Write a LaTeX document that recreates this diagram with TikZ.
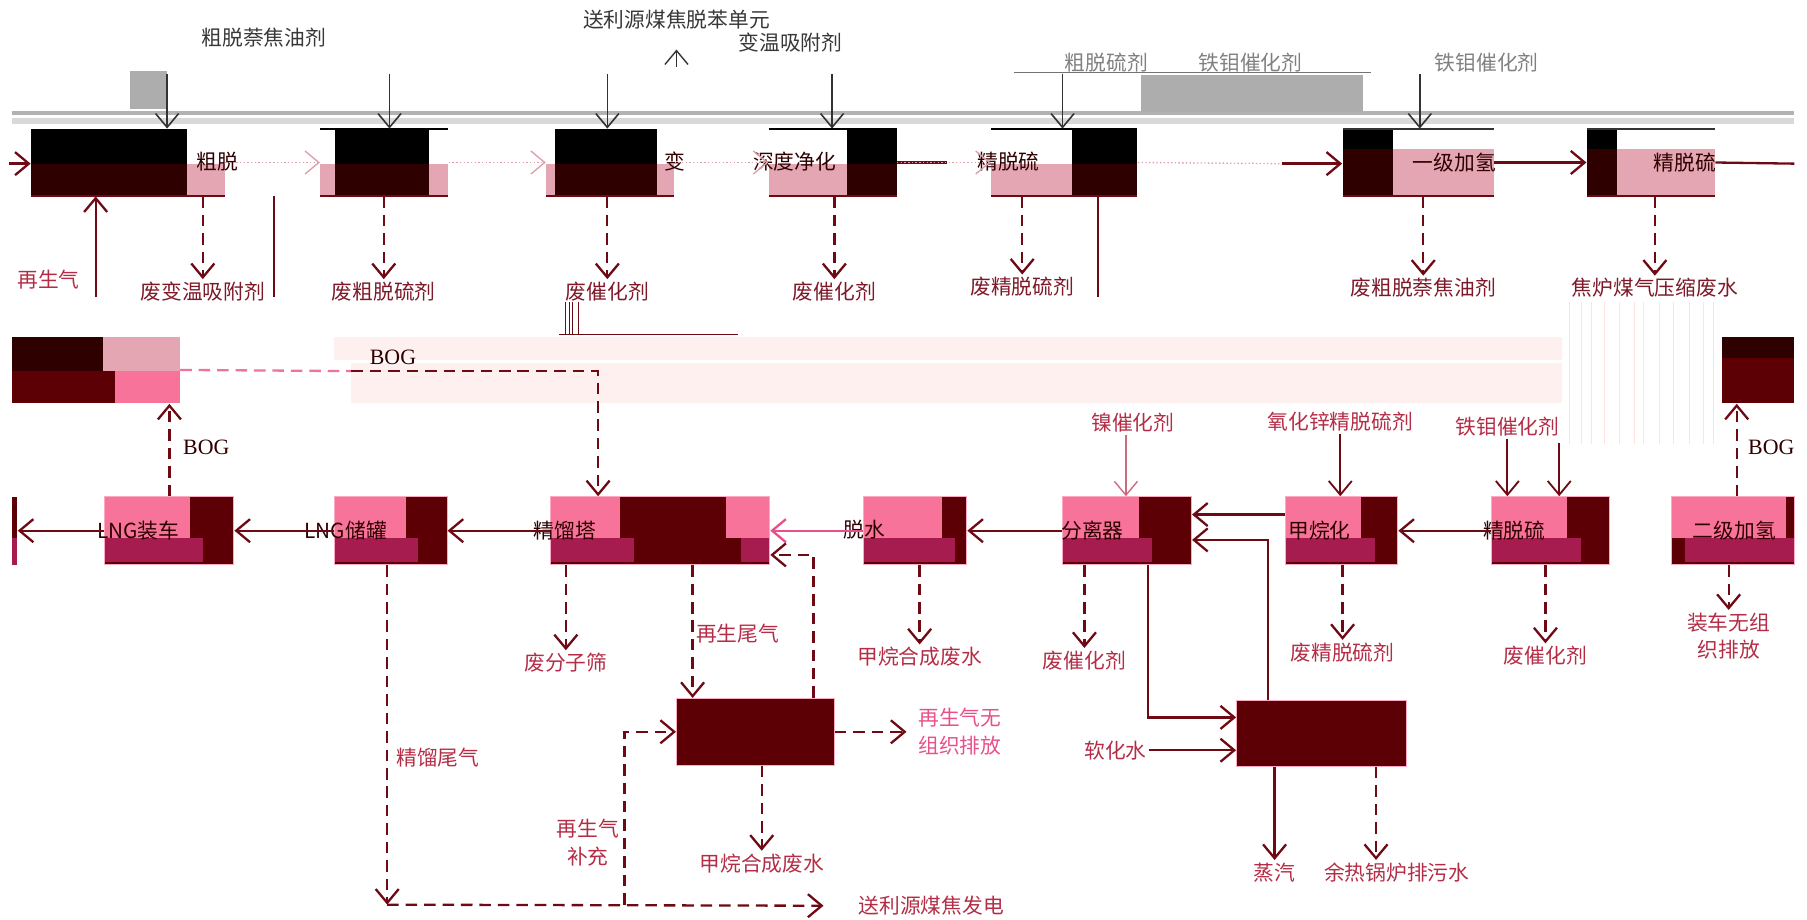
\documentclass[tikz,border=0pt]{standalone}
\usepackage{fontspec}
\setmainfont{Liberation Serif}
\newfontfamily\cjk{Noto Sans CJK SC}
\usetikzlibrary{arrows.meta}
\usetikzlibrary{fit}
\usetikzlibrary{calc}

\definecolor{boxred}{RGB}{92,0,5}
\definecolor{boxdeep}{RGB}{46,0,0}
\definecolor{hotpink}{RGB}{247,115,153}
\definecolor{crimson}{RGB}{166,28,78}
\definecolor{rosepink}{RGB}{227,166,178}
\definecolor{linered}{RGB}{110,10,20}
\definecolor{labred}{RGB}{180,45,70}
\definecolor{labdark}{RGB}{125,25,40}
\definecolor{ventpink}{RGB}{232,80,138}
\definecolor{haze}{RGB}{255,240,240}

\tikzset{
  flow/.style={draw=linered, line width=1pt, -{Straight Barb[length=6pt,width=10pt]}},
  waste/.style={flow, dash pattern=on 5pt off 3pt},
  feed/.style={draw=black!80, line width=0.7pt, -{Straight Barb[length=6pt,width=10pt]}},
  faint/.style={draw=labred!45, line width=0.6pt, densely dotted, -{Straight Barb[length=6pt,width=10pt]}},
  pipe/.style={draw=linered, line width=1pt},
  zone/.style={inner sep=0pt, draw=none},
  lab/.style={font=\cjk\fontsize{9}{12}\selectfont, text=labred, inner sep=1pt, align=center},
  toplab/.style={lab, text=black!78},
  wastelab/.style={lab, text=labdark},
  inbox/.style={lab, text=boxdeep},
  boglab/.style={font=\rmfamily\fontsize{9.5}{11}\selectfont, text=boxdeep, inner sep=1pt},
  boxline/.style={draw=hotpink!60, line width=0.4pt},
}

\begin{document}
\begin{tikzpicture}[x=0.5pt, y=-0.5pt]
\useasboundingbox (0,0) rectangle (1568,798);

% grey bands at the top
\fill[black!30] (10,96) rectangle (1557,100);
\fill[black!15] (10,102) rectangle (1557,108);
\fill[black!32] (113,62) rectangle (145,95);
\fill[black!32] (990,65) rectangle (1183,97);
\draw[black!55, line width=0.6pt] (880,63) -- (1190,63);
\fill[haze] (290,292) rectangle (1355,312);
\fill[haze] (305,315) rectangle (1355,350);
\foreach \gx in {1362,1372,1381,1392,1405,1418,1426,1440,1452,1466,1478,1487}
  \draw[pink!45, line width=0.4pt] (\gx,262) -- (\gx,385);

% first line of units
\fill[black] (27,112) rectangle (162,142);
\fill[boxdeep] (27,142) rectangle (162,170);
\fill[rosepink] (162,142) rectangle (195,170);
\draw[pipe, line width=0.6pt] (27,170) -- (195,170);
\node[zone, fit={(27,112) (195,170)}] (tsa) {};
\node[inbox, anchor=west] (tsat) at (168,140) {粗脱};

\fill[rosepink] (278,142) rectangle (291,170);
\fill[black] (291,112) rectangle (372,142);
\fill[boxdeep] (291,142) rectangle (372,170);
\fill[rosepink] (372,142) rectangle (389,170);
\draw[black, line width=0.6pt] (278,112) -- (389,112);
\draw[pipe, line width=0.6pt] (278,170) -- (389,170);
\node[zone, fit={(278,112) (389,170)}] (crds) {};

\fill[rosepink] (474,142) rectangle (482,170);
\fill[black] (482,112) rectangle (570,142);
\fill[boxdeep] (482,142) rectangle (570,170);
\fill[rosepink] (570,142) rectangle (585,170);
\draw[pipe, line width=0.6pt] (474,170) -- (585,170);
\node[zone, fit={(474,112) (585,170)}] (shift) {};
\node[inbox, anchor=west] (shiftt) at (574,140) {变};

\fill[rosepink] (667,142) rectangle (735,170);
\fill[black] (735,112) rectangle (778,142);
\fill[boxdeep] (735,142) rectangle (778,170);
\draw[black, line width=0.6pt] (667,112) -- (778,112);
\draw[pipe, line width=0.6pt] (667,170) -- (778,170);
\node[zone, fit={(667,112) (778,170)}] (deep) {};
\node[inbox, anchor=east] (deept) at (728,140) {深度净化};

\fill[rosepink] (860,142) rectangle (930,170);
\fill[black] (930,112) rectangle (987,142);
\fill[boxdeep] (930,142) rectangle (987,170);
\draw[black, line width=0.6pt] (860,112) -- (987,112);
\draw[pipe, line width=0.6pt] (860,170) -- (987,170);
\node[zone, fit={(860,112) (987,170)}] (fds) {};
\node[inbox] (fdst) at (875,140) {精脱硫};

\fill[black] (1165,112) rectangle (1209,129);
\fill[boxdeep] (1165,129) rectangle (1209,170);
\fill[rosepink] (1209,129) rectangle (1296,170);
\draw[black!80, line width=0.6pt] (1165,112) -- (1296,112);
\draw[pipe, line width=0.6pt] (1165,170) -- (1296,170);
\node[zone, fit={(1165,112) (1296,170)}] (hyd) {};
\node[inbox] (hydt) at (1262,141) {一级加氢};

\fill[black] (1377,112) rectangle (1403,129);
\fill[boxdeep] (1377,129) rectangle (1403,170);
\fill[rosepink] (1403,129) rectangle (1488,170);
\draw[black!80, line width=0.6pt] (1377,112) -- (1488,112);
\draw[pipe, line width=0.6pt] (1377,170) -- (1488,170);
\node[zone, fit={(1377,112) (1488,170)}] (fine) {};
\node[inbox] (finet) at (1462,141) {精脱硫};

% top feeds
\node[toplab] (benz) at (587,17) {送利源煤焦脱苯单元};
\node[toplab] (naph) at (229,33) {粗脱萘焦油剂};
\node[toplab] (tsaag) at (686,37) {变温吸附剂};
\node[toplab, text=black!50] (crag) at (960,54) {粗脱硫剂};
\node[toplab, text=black!50] (femoa) at (1085,54) {铁钼催化剂};
\node[toplab, text=black!50] (femob) at (1290,54) {铁钼催化剂};
\coordinate (bz) at (587,58);
\draw[feed, line width=0.6pt] (bz) -- (587,43);
\coordinate (f1) at (145,64);
\coordinate (f2) at (338,64);
\coordinate (f3) at (527,64);
\coordinate (f4) at (722,64);
\coordinate (f5) at (922,64);
\coordinate (f6) at (1232,64);
\draw[feed] (f1) -- (f1 |- tsa.north);
\draw[feed] (f2) -- (f2 |- crds.north);
\draw[feed] (f3) -- (f3 |- shift.north);
\draw[feed] (f4) -- (f4 |- deep.north);
\draw[feed] (f5) -- (f5 |- fds.north);
\draw[feed] (f6) -- (f6 |- hyd.north);

% main gas line
\coordinate (gasin) at (8,142);
\coordinate (gasmid) at (1112,142);
\coordinate (gasout) at (1557,142);
\draw[flow] (gasin) -- (gasin -| tsa.west);
\draw[faint] (tsa.east) -- (crds.west);
\draw[faint] (crds.east) -- (shift.west);
\draw[faint] (shift.east) -- (deep.west);
\draw[pipe] (deep.east) -- ++(43,0);
\draw[faint] (deep.east) -- (fds.west);
\draw[faint, -] (fds.east) -- (gasmid);
\draw[flow] (gasmid) -- (gasmid -| hyd.west);
\draw[flow] (hyd.east) -- (hyd.east -| fine.west);
\draw[pipe] (fine.east) -- (gasout);

% wastes of the first line
\node[wastelab] (w1) at (176,253) {废变温吸附剂};
\node[wastelab] (w2) at (333,253) {废粗脱硫剂};
\node[wastelab] (w3) at (527,253) {废催化剂};
\node[wastelab] (w4) at (724,253) {废催化剂};
\node[wastelab] (w5) at (887,249) {废精脱硫剂};
\node[wastelab] (w6) at (1235,250) {废粗脱萘焦油剂};
\node[wastelab] (w7) at (1436,250) {焦炉煤气压缩废水};
\draw[waste] (w1 |- tsa.south) -- (w1.north);
\draw[waste] (w2 |- crds.south) -- (w2.north);
\draw[waste] (w3 |- shift.south) -- (w3.north);
\draw[waste] (w4 |- deep.south) -- (w4.north);
\draw[waste] (w5 |- fds.south) -- (w5.north);
\draw[waste] (w6 |- hyd.south) -- (w6.north);
\draw[waste] (w7 |- fine.south) -- (w7.north);

\node[wastelab, text=labred] (regin) at (42,243) {再生气};
\coordinate (rg) at (83,258);
\draw[flow] (rg) -- (rg |- tsa.south);
\coordinate (t1) at (238,258);
\draw[pipe] (t1 |- tsa.south) -- (t1);
\coordinate (t2) at (953,258);
\draw[pipe] (t2 |- fds.south) -- (t2);
\draw[pipe, line width=0.6pt] (485,290) -- (640,290);
\foreach \vx in {491,494,497,502}
  \draw[pipe, line width=0.4pt] (\vx,262) -- (\vx,290);

% BOG holders
\fill[boxdeep] (10,292) rectangle (89,322);
\fill[rosepink] (89,292) rectangle (156,322);
\fill[boxred] (10,322) rectangle (100,350);
\fill[hotpink] (100,322) rectangle (156,350);
\node[zone, fit={(10,292) (156,350)}] (bogl) {};
\fill[boxdeep] (1494,292) rectangle (1557,311);
\fill[boxred] (1494,311) rectangle (1557,350);
\node[zone, fit={(1494,292) (1557,350)}] (bogr) {};

% second line of units
\foreach \xa/\xb/\xp/\xc in {91/203/165/176, 290/388/352/363, 749/839/817/829, 922/1034/988/1000, 1115/1213/1181/1193, 1294/1397/1360/1372}{
  \fill[boxred] (\xa,431) rectangle (\xb,490);
  \fill[hotpink] (\xa,431) rectangle (\xp,467);
  \fill[crimson] (\xa,467) rectangle (\xc,488);
  \draw[boxline] (\xa,431) rectangle (\xb,490);
}
\fill[boxred] (478,431) rectangle (668,490);
\fill[hotpink] (478,431) rectangle (538,467);
\fill[hotpink] (630,431) rectangle (668,467);
\fill[crimson] (478,467) rectangle (550,488);
\fill[crimson] (643,467) rectangle (668,488);
\draw[boxline] (478,431) rectangle (668,490);
\fill[boxred] (1450,431) rectangle (1557,490);
\fill[hotpink] (1450,431) rectangle (1550,467);
\fill[crimson] (1462,467) rectangle (1557,488);
\draw[boxline] (1450,431) rectangle (1557,490);
\fill[boxred] (10,431) rectangle (15,467);
\fill[crimson] (10,467) rectangle (15,490);

\node[zone, fit={(10,431) (15,490)}] (load) {};
\node[zone, fit={(91,431) (203,490)}] (car) {};
\node[zone, fit={(290,431) (388,490)}] (tank) {};
\node[zone, fit={(478,431) (668,490)}] (dist) {};
\node[zone, fit={(749,431) (839,490)}] (dry) {};
\node[zone, fit={(922,431) (1034,490)}] (sep) {};
\node[zone, fit={(1115,431) (1213,490)}] (meth) {};
\node[zone, fit={(1294,431) (1397,490)}] (fds2) {};
\node[zone, fit={(1450,431) (1557,490)}] (hyd2) {};
\node[inbox] (cart) at (120,460) {LNG装车};
\node[inbox] (tankt) at (300,460) {LNG储罐};
\node[inbox] (distt) at (490,460) {精馏塔};
\node[inbox] (dryt) at (750,460) {脱水};
\node[inbox] (sept) at (948,460) {分离器};
\node[inbox] (metht) at (1145,460) {甲烷化};
\node[inbox] (fds2t) at (1314,460) {精脱硫};
\node[inbox] (hyd2t) at (1505,460) {二级加氢};

\draw[flow] (car.west) -- (load.east);
\draw[flow] (tank.west) -- (car.east);
\draw[flow] (dist.west) -- (tank.east);
\draw[flow, draw=ventpink] (dry.west) -- (dist.east);
\draw[flow] (sep.west) -- (dry.east);
\draw[flow] ($(meth.west)+(0,-14)$) -- ($(sep.east)+(0,-14)$);
\draw[flow] (fds2.west) -- (meth.east);

% BOG
\coordinate (bogm) at (305,322);
\coordinate (bogk) at (519,322);
\draw[waste, -, draw=ventpink!80] (bogl.east) -- (bogm);
\draw[waste] (bogm) -- (bogk) -- (bogk |- dist.north);
\node[boglab] (bog1) at (341,310) {BOG};
\coordinate (cx) at (147,0);
\draw[waste] (cx |- car.north) -- (cx |- bogl.south);
\node[boglab] (bog2) at (179,388) {BOG};
\coordinate (hx) at (1507,0);
\draw[waste] (hx |- hyd2.north) -- (hx |- bogr.south);
\node[boglab] (bog3) at (1537,388) {BOG};

% feeds of the second line
\node[lab] (nicat) at (983,367) {镍催化剂};
\node[lab] (zno) at (1163,366) {氧化锌精脱硫剂};
\node[lab] (femo) at (1308,370) {铁钼催化剂};
\coordinate (nx) at (977,0);
\draw[flow, line width=0.6pt, draw=labred!70] (nx |- nicat.south) -- (nx |- sep.north);
\draw[flow, line width=0.8pt] (zno.south) -- (zno.south |- meth.north);
\draw[flow, line width=0.8pt] (femo.south) -- (femo.south |- fds2.north);
\coordinate (f2b) at (1353,384);
\draw[flow, line width=0.8pt] (f2b) -- (f2b |- fds2.north);

% regeneration and boiler
\fill[boxred] (587,606) rectangle (724,664);
\draw[boxline] (587,606) rectangle (724,664);
\node[zone, fit={(587,606) (724,664)}] (regen) {};
\fill[boxred] (1073,608) rectangle (1220,665);
\draw[boxline] (1073,608) rectangle (1220,665);
\node[zone, fit={(1073,608) (1220,665)}] (boiler) {};

\node[lab] (sieve) at (491,575) {废分子筛};
\draw[waste] (sieve |- dist.south) -- (sieve.north);
\coordinate (rx) at (601,0);
\draw[waste] (rx |- dist.south) -- (rx |- regen.north);
\node[lab] (tailg) at (640,550) {再生尾气};
\coordinate (ry) at (706,0);
\draw[waste] (ry |- regen.north) |- ($(dist.east)+(0,21)$);
\coordinate (tx) at (336,0);
\coordinate (pw) at (336,785);
\draw[waste] (tx |- tank.south) -- (pw);
\node[lab] (distg) at (380,657) {精馏尾气};
\node[lab] (power) at (808,786) {送利源煤焦发电};
\draw[waste, shorten >=14pt] (pw) -- (power.west);
\coordinate (mk) at (542,785);
\draw[waste] (mk) |- (regen.west);
\node[lab] (mkup) at (510,731) {再生气\\补充};
\node[lab, text=ventpink] (vent) at (833,635) {再生气无\\组织排放};
\draw[waste] (regen.east) -- ($(vent.west)+(-8,0)$);
\node[lab] (ww2) at (661,749) {甲烷合成废水};
\draw[waste] (ww2 |- regen.south) -- (ww2.north);

\node[lab] (ww1) at (798,570) {甲烷合成废水};
\draw[waste] (ww1 |- dry.south) -- (ww1.north);
\node[lab] (cat1) at (941,573) {废催化剂};
\draw[waste] (cat1 |- sep.south) -- (cat1.north);
\node[lab] (sulf) at (1165,566) {废精脱硫剂};
\draw[waste] (sulf |- meth.south) -- (sulf.north);
\node[lab] (cat2) at (1341,569) {废催化剂};
\draw[waste] (cat2 |- fds2.south) -- (cat2.north);
\node[lab] (unorg) at (1500,552) {装车无组\\织排放};
\draw[waste] (unorg |- hyd2.south) -- (unorg.north);

\coordinate (sx) at (996,0);
\draw[flow] (sx |- sep.south) |- ($(boiler.west)+(0,-14)$);
\coordinate (bx) at (1100,0);
\draw[flow] (bx |- boiler.north) |- ($(sep.east)+(0,8)$);
\node[lab] (soft) at (968,651) {软化水};
\draw[flow] (soft.east) -- (soft.east -| boiler.west);
\node[lab] (steam) at (1106,757) {蒸汽};
\draw[flow] (steam |- boiler.south) -- (steam.north);
\node[lab] (blow) at (1212,757) {余热锅炉排污水};
\coordinate (bdx) at (1194,0);
\draw[waste] (bdx |- boiler.south) -- (bdx |- blow.north);
\end{tikzpicture}
\end{document}
